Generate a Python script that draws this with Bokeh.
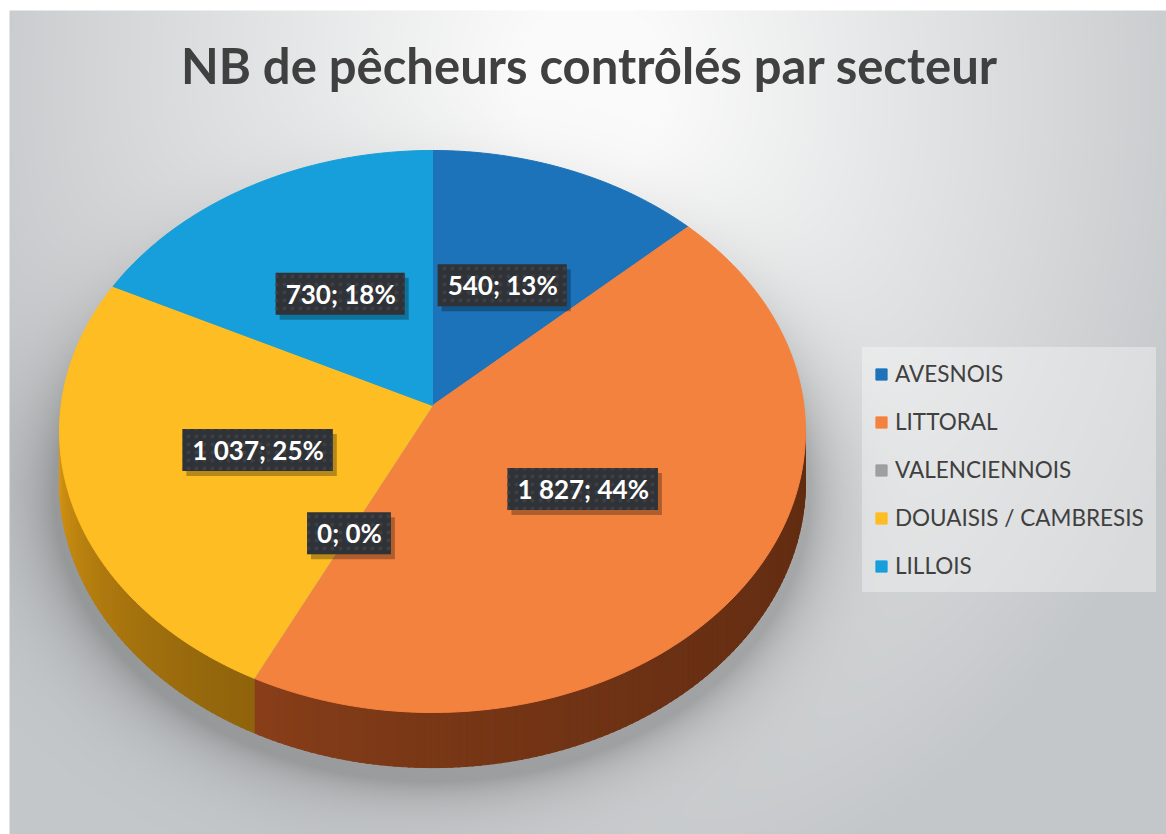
import numpy as np
from bokeh.plotting import figure
from bokeh.models import ColumnDataSource, Range1d, Legend, LegendItem
from bokeh.embed import file_html
from bokeh.resources import INLINE
from bokeh.core.properties import value

# ---------------- data ----------------
categories = ["AVESNOIS", "LITTORAL", "VALENCIENNOIS", "DOUAISIS / CAMBRESIS", "LILLOIS"]
counts = [540, 1827, 0, 1037, 730]
colors = ["#1D73BA", "#F4823F", "#9D9FA1", "#FDBD23", "#169FDA"]
title_text = "NB de pêcheurs contrôlés par secteur"

# ---------------- layout / style ----------------
W, H = 1166, 834
CX, CY = 432.0, 405.0          # apex of the pie (screen px)
A, B, E, DEPTH = 371.4, 278.6, 0.0925, 50.0
FONT = "Lato"
BG_X0, BG_Y0 = 9, 10           # white border at left / top


def proj(theta_deg, r=1.0, drop=0.0):
    t = np.radians(np.asarray(theta_deg, dtype=float))
    u = r * np.sin(t)
    v = r * np.cos(t)
    w = 1 + E * v
    x = CX + A * u / w
    ys = CY - B * v / w + drop / w
    return x, H - ys


def hex_rgb(h):
    h = h.lstrip("#")
    return np.array([int(h[i:i + 2], 16) for i in (0, 2, 4)], dtype=float)


def rgb_hex(c):
    c = np.clip(np.round(c), 0, 255).astype(int)
    return "#%02x%02x%02x" % tuple(c)


total = float(sum(counts))
cum = np.concatenate([[0.0], np.cumsum(counts)]) / total * 360.0

p = figure(width=W, height=H, x_range=Range1d(0, W), y_range=Range1d(0, H),
           output_backend="svg", toolbar_location=None, min_border=0,
           x_axis_type=None, y_axis_type=None, outline_line_color=None,
           background_fill_color="white", border_fill_color="white")
p.grid.visible = False

# ---------------- background (radial gradient + pie shadow) ----------------
bw, bh = W - BG_X0, H - BG_Y0
nx, ny = 579, 412
gx = BG_X0 + (np.arange(nx) + 0.5) * bw / nx
gy = (np.arange(ny) + 0.5) * bh / ny          # data y from bottom
X, Yd = np.meshgrid(gx, gy)
Ys = H - Yd
d = np.sqrt(((X - 590) / 700.0) ** 2 + ((Ys - 95) / 880.0) ** 2)
t = np.clip((d - 0.1) / 0.82, 0, 1)
c0 = np.array([251, 251, 251], dtype=float)
c1 = np.array([197, 200, 202], dtype=float)
rgb = c0 + (c1 - c0) * t[..., None]
de = np.sqrt(((X - CX) / 378.0) ** 2 + ((Ys - (CY + 86)) / 290.0) ** 2)
dist = (de - 1) * 320
sh = np.where(dist > 0, np.exp(-np.maximum(dist, 0) / 30.0), 1.0) * 0.24
rgb = rgb * (1 - sh[..., None])
arr = np.empty((ny, nx, 4), dtype=np.uint8)
arr[..., :3] = np.clip(rgb, 0, 255).astype(np.uint8)
arr[..., 3] = 255
img = arr.view(np.uint32).reshape(ny, nx)
p.image_rgba(image=[img], x=BG_X0, y=0, dw=bw, dh=bh)

# ---------------- side walls ----------------
lo = np.degrees(np.arccos(-E))
hi = 360.0 - lo
sxs, sys_, scol = [], [], []
for i in range(len(counts)):
    a0, a1 = max(cum[i], lo), min(cum[i + 1], hi)
    if a1 <= a0:
        continue
    n = int(np.ceil(a1 - a0)) + 1
    th = np.linspace(a0, a1, n)
    base = 255.0 * (hex_rgb(colors[i]) / 255.0) ** 1.25
    for k in range(n - 1):
        t0, t1 = th[k], th[k + 1] + (0.3 if k < n - 2 else 0)
        tx, ty = proj([t0, t1])
        bx, by = proj([t1, t0], drop=DEPTH)
        sxs.append(list(tx) + list(bx))
        sys_.append(list(ty) + list(by))
        s = (hi - 0.5 * (t0 + t1)) / (hi - lo)
        f = 0.37 + 0.49 * np.exp(-s / 0.38)
        scol.append(rgb_hex(base * f))
p.patches(xs=sxs, ys=sys_, fill_color=scol, line_color=scol, line_width=1)

# ---------------- top faces ----------------
txs, tys = [], []
ax_, ay_ = proj(0.0, r=0.0)
for i in range(len(counts)):
    a0, a1 = cum[i], cum[i + 1]
    n = max(2, int(np.ceil(a1 - a0)) + 2)
    th = np.linspace(a0, a1, n)
    px, py = proj(th)
    txs.append([float(ax_)] + list(px))
    tys.append([float(ay_)] + list(py))
top_src = ColumnDataSource(dict(xs=txs, ys=tys, color=colors, name=categories))
top_r = p.patches(xs="xs", ys="ys", fill_color="color", line_color="color",
                  line_width=1, source=top_src)

# ---------------- data labels ----------------
def fmt(c):
    return f"{c:,}".replace(",", " ")

lab_th = 0.5 * (cum[:-1] + cum[1:])
lx, ly = proj(lab_th, r=0.49)
labels = [f"{fmt(c)}; {round(100 * c / total)}%" for c in counts]
lab_src = ColumnDataSource(dict(x=lx, y=ly, text=labels))
pad = dict(left=10, right=9, top=5, bottom=5)
p.text(x="x", y="y", text="text", source=lab_src, text_font=value(FONT),
       text_font_style="bold", text_font_size="26px", text_alpha=0,
       text_align="center", text_baseline="middle", x_offset=4, y_offset=5,
       background_fill_color="black", background_fill_alpha=0.28, padding=pad)
p.text(x="x", y="y", text="text", source=lab_src, text_font=value(FONT),
       text_font_style="bold", text_font_size="26px", text_color="white",
       text_align="center", text_baseline="middle",
       background_fill_color="#2F3236", background_hatch_pattern="dot",
       background_hatch_color="#3C4045", background_hatch_scale=8,
       background_hatch_weight=1.2, padding=pad)

# ---------------- title ----------------
p.text(x=[589], y=[H - 64], text=[title_text], text_font=value(FONT),
       text_font_style="bold", text_font_size="49px", text_color="#404040",
       text_align="center", text_baseline="alphabetic")

# ---------------- legend ----------------
legend = Legend(items=[LegendItem(label=categories[i], renderers=[top_r], index=i)
                       for i in range(len(categories))],
                location=(862, 242), orientation="vertical", padding=12, spacing=19,
                label_height=29, glyph_height=14, glyph_width=14, label_standoff=7,
                label_text_font=FONT, label_text_font_size="22.5px",
                label_text_color="#404040", background_fill_color="white",
                background_fill_alpha=0.35, border_line_alpha=0, margin=0)
p.add_layout(legend, "center")

open("out.html", "w").write(file_html(p, INLINE))
